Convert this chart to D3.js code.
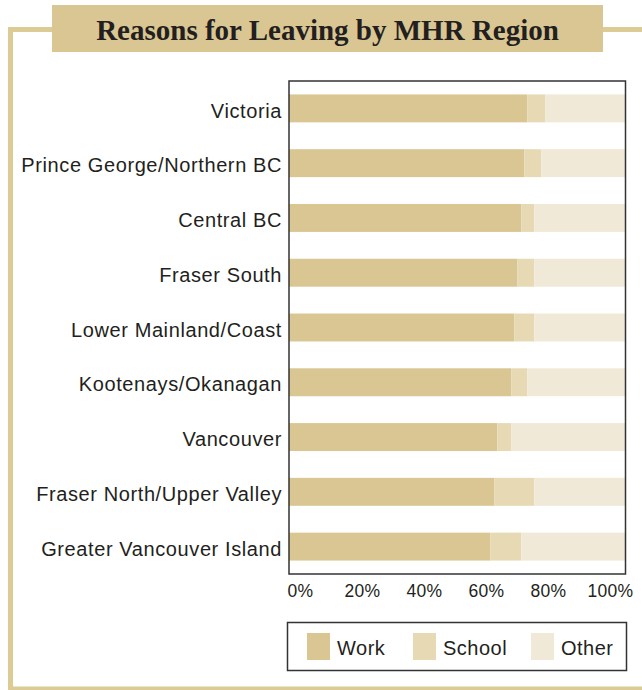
<!DOCTYPE html>
<html>
<head>
<meta charset="utf-8">
<script src="https://cdn.jsdelivr.net/npm/d3@7"></script>
<style>
  html, body { margin: 0; padding: 0; background: #fff; }
  svg { display: block; }
</style>
</head>
<body>
<svg id="chart" width="642" height="690"></svg>
<script>
const regions = [
  "Victoria",
  "Prince George/Northern BC",
  "Central BC",
  "Fraser South",
  "Lower Mainland/Coast",
  "Kootenays/Okanagan",
  "Vancouver",
  "Fraser North/Upper Valley",
  "Greater Vancouver Island"
];
const work   = [70.8, 69.9, 69.0, 67.9, 67.0, 66.1, 61.9, 61.0, 59.8];
const school = [5.4, 5.1, 3.9, 5.0, 5.9, 4.7, 4.2, 11.9, 9.2];
const other  = [23.8, 25.0, 27.1, 27.1, 27.1, 29.2, 33.9, 27.1, 31.0];
const seriesNames = ["Work", "School", "Other"];
const seriesColors = ["#d9c692", "#e6d9b4", "#f1e9d7"];
const tickValues = [0, 20, 40, 60, 80, 100];
const title = "Reasons for Leaving by MHR Region";

const svg = d3.select("#chart");
const gold = "#dccb95";
const ink = "#231f20";
const sans = "'Liberation Sans', Arial, Helvetica, sans-serif";

// outer frame
svg.append("path")
  .attr("d", "M10.5,690 L10.5,29.5 L60,29.5")
  .attr("fill", "none").attr("stroke", gold).attr("stroke-width", 5);
svg.append("line").attr("x1", 600).attr("x2", 642).attr("y1", 29.5).attr("y2", 29.5)
  .attr("stroke", gold).attr("stroke-width", 5);
svg.append("line").attr("x1", 8).attr("x2", 642).attr("y1", 688.5).attr("y2", 688.5)
  .attr("stroke", gold).attr("stroke-width", 4);

// title box
svg.append("rect").attr("x", 52).attr("y", 5).attr("width", 551).attr("height", 47)
  .attr("fill", "#d9c692");
svg.append("text").attr("x", 327.5).attr("y", 40)
  .attr("text-anchor", "middle")
  .attr("font-family", "'Liberation Serif', 'Times New Roman', serif")
  .attr("font-weight", "bold").attr("font-size", 29).attr("fill", ink)
  .text(title);

// plot
const plot = { left: 289, right: 625.5, top: 81, bottom: 574 };
const x = d3.scaleLinear().domain([0, 100]).range([plot.left, plot.right]);
const y = d3.scaleBand().domain(regions).range([plot.top, plot.bottom]).paddingInner(0.49).paddingOuter(0.245);

const rows = regions.map((r, i) => ({ region: r, Work: work[i], School: school[i], Other: other[i] }));
const stack = d3.stack().keys(seriesNames)(rows);
const color = d3.scaleOrdinal().domain(seriesNames).range(seriesColors);

svg.append("g").selectAll("g").data(stack).join("g")
  .attr("fill", d => color(d.key))
  .selectAll("rect").data(d => d).join("rect")
  .attr("x", d => x(d[0]))
  .attr("width", d => Math.max(0, x(Math.min(100, d[1])) - x(d[0])))
  .attr("y", d => y(d.data.region))
  .attr("height", y.bandwidth());

svg.append("rect")
  .attr("x", plot.left).attr("y", plot.top)
  .attr("width", plot.right - plot.left).attr("height", plot.bottom - plot.top)
  .attr("fill", "none").attr("stroke", "#333").attr("stroke-width", 1.5);

// category labels
const yAxis = d3.axisLeft(y).tickSize(0).tickPadding(7);
const gy = svg.append("g").attr("transform", `translate(${plot.left},0)`).call(yAxis);
gy.select(".domain").remove();
gy.selectAll("text").attr("font-family", sans)
  .attr("font-size", 20).attr("letter-spacing", "0.6px").attr("fill", ink).attr("dy", "0.46em");

// x tick labels (spread slightly inside the plot frame as in the reference)
const xl = d3.scaleLinear().domain([0, 100]).range([300, 610]);
const xAxis = d3.axisBottom(xl).tickValues(tickValues).tickSize(0).tickPadding(0).tickFormat(d => d + "%");
const gx = svg.append("g").attr("transform", `translate(0,584.5)`).call(xAxis);
gx.select(".domain").remove();
gx.selectAll("text").attr("font-family", sans)
  .attr("font-size", 17.5).attr("letter-spacing", "0.3px").attr("fill", ink).attr("dy", "0.71em");

// legend
const lg = svg.append("g");
lg.append("rect").attr("x", 287.5).attr("y", 622.5).attr("width", 339).attr("height", 48)
  .attr("fill", "#fff").attr("stroke", "#333").attr("stroke-width", 1.5);
const legendX = [307, 413, 531];
seriesNames.forEach((s, i) => {
  lg.append("rect").attr("x", legendX[i]).attr("y", 633).attr("width", 23).attr("height", 27)
    .attr("fill", color(s));
  lg.append("text").attr("x", legendX[i] + 30).attr("y", 648).attr("dy", "0.35em")
    .attr("font-family", sans).attr("letter-spacing", "0.5px")
    .attr("font-size", 20).attr("fill", ink).text(s);
});
</script>
</body>
</html>
